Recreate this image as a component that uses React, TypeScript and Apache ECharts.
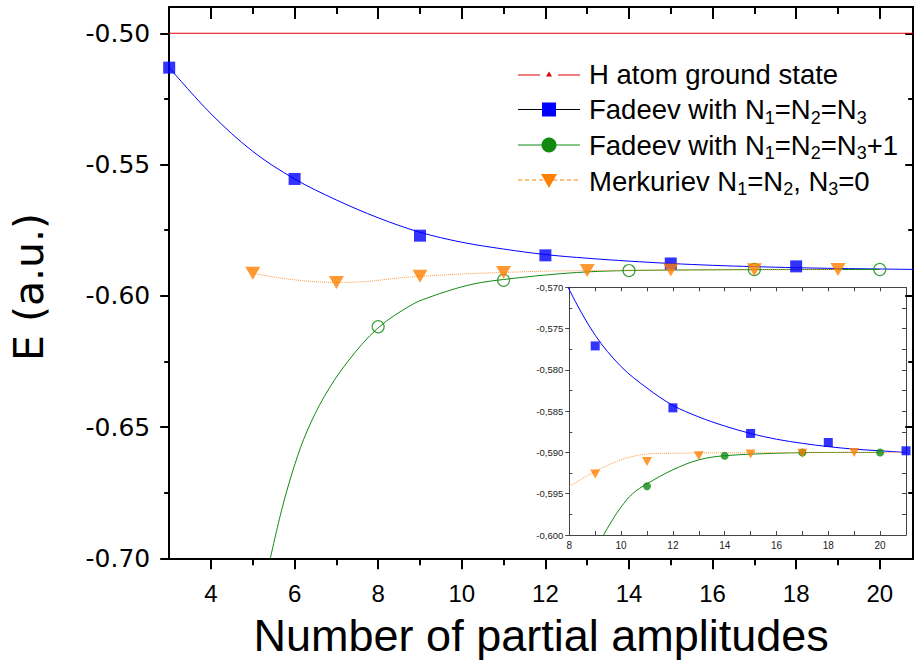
import React, { useEffect, useRef } from "react";
import * as echarts from "echarts";

// ---- axis ranges & ticks ----
const MAIN_X_MIN = 3;
const MAIN_X_MAX = 20.8;
const MAIN_Y_MIN = -0.7;
const MAIN_Y_MAX = -0.49;
const INSET_X_MIN = 8;
const INSET_X_MAX = 21;
const INSET_Y_MIN = -0.6;
const INSET_Y_MAX = -0.57;

const mainXMajor = [4, 6, 8, 10, 12, 14, 16, 18, 20];
const mainXMinor = [5, 7, 9, 11, 13, 15, 17, 19];
const mainYMajor = [-0.7, -0.65, -0.6, -0.55, -0.5];
const mainYMinor = [-0.675, -0.625, -0.575, -0.525];
const insetXTicks = [8, 9, 10, 11, 12, 13, 14, 15, 16, 17, 18, 19, 20, 21];
const insetXLabels = [8, 10, 12, 14, 16, 18, 20];
const insetYMajor = [-0.6, -0.595, -0.59, -0.585, -0.58, -0.575, -0.57];
const insetYMinor = [-0.5975, -0.5925, -0.5875, -0.5825, -0.5775, -0.5725];

// ---- data ----
const H_GROUND = -0.5;

const fadeevEqX = [3, 6, 9, 12, 15, 18, 21];
const fadeevEqE = [-0.5131, -0.5555, -0.5771, -0.5846, -0.5877, -0.5888, -0.5898];

const fadeevPlusX = [8, 11, 14, 17, 20];
const fadeevPlusE = [-0.6118, -0.5941, -0.5904, -0.59, -0.59];

const merkX = [5, 7, 9, 11, 13, 15, 17, 19];
const merkE = [-0.5914, -0.5949, -0.5926, -0.5911, -0.5904, -0.5902, -0.5901, -0.59];

// fitted curves
const blueFitX = [3, 4, 5, 6, 7, 8, 9, 10, 11, 12, 13, 14, 15, 16, 17, 18, 19, 20, 21];
const blueFitE = [-0.5131, -0.5307, -0.5450, -0.5555, -0.5635, -0.5703, -0.5758, -0.5796, -0.5822, -0.5843, -0.5857, -0.5868, -0.5877, -0.5884, -0.5889, -0.5893, -0.5896, -0.5898, -0.59];

const greenFitX = [5.42, 5.7, 6.01, 6.3, 6.71, 7.25, 8.0, 8.84, 9.29, 9.64, 10.0, 10.44, 11, 12, 13, 14, 16, 18, 20];
const greenFitE = [-0.7, -0.681, -0.664, -0.6515, -0.6384, -0.6255, -0.6122, -0.6031, -0.6002, -0.5983, -0.5966, -0.5950, -0.5938, -0.5921, -0.5909, -0.5904, -0.5901, -0.59, -0.59];

const merkFitX = [8, 9, 10, 11, 12, 14, 21];
const merkFitE = [-0.5941, -0.5923, -0.5909, -0.5902, -0.5901, -0.59005, -0.59];

const legendLabels = [
  "{t|H atom ground state}",
  "{t|Fadeev with N}{s|1}{t|=N}{s|2}{t|=N}{s|3}",
  "{t|Fadeev with N}{s|1}{t|=N}{s|2}{t|=N}{s|3}{t|+1}",
  "{t|Merkuriev N}{s|1}{t|=N}{s|2}{t|, N}{s|3}{t|=0}",
];

const BLUE = "#0000ff";
const GREEN = "#128a12";
const ORANGE = "#ff8000";
const RED = "#e00000";

const zip = (xs: number[], ys: number[]) => xs.map((x, i) => [x, ys[i]]);

export default function App() {
  const ref = useRef<HTMLDivElement>(null);

  useEffect(() => {
    document.body.style.margin = "0";
    if (!ref.current) return;
    const chart = echarts.init(ref.current, undefined, { renderer: "svg" });

    const mainAxisLine = { show: true, lineStyle: { color: "#000", width: 2 } };
    const insetAxisLine = { show: true, lineStyle: { color: "#444", width: 1 } };
    const noLine = { show: false };

    const xAxes: any[] = [
      {
        gridIndex: 0, type: "value", position: "bottom", min: MAIN_X_MIN, max: MAIN_X_MAX,
        axisLine: mainAxisLine, splitLine: { show: false },
        axisTick: { show: true, customValues: mainXMajor, length: 11, lineStyle: { width: 2, color: "#000" } },
        axisLabel: { customValues: mainXMajor, fontFamily: "Liberation Sans", fontSize: 24, color: "#000", margin: 23, formatter: (v: number) => String(v) },
        name: "Number of partial amplitudes", nameLocation: "middle", nameGap: 55,
        nameTextStyle: { fontFamily: "Liberation Sans", fontSize: 45, color: "#000" },
      },
      {
        gridIndex: 0, type: "value", position: "bottom", min: MAIN_X_MIN, max: MAIN_X_MAX,
        axisLine: noLine, splitLine: { show: false },
        axisTick: { show: true, customValues: mainXMinor, length: 7, lineStyle: { width: 2, color: "#000" } },
        axisLabel: { show: false },
      },
      {
        gridIndex: 0, type: "value", position: "top", min: MAIN_X_MIN, max: MAIN_X_MAX,
        axisLine: mainAxisLine, splitLine: { show: false },
        axisTick: { show: true, inside: true, customValues: mainXMajor, length: 12, lineStyle: { width: 2, color: "#000" } },
        axisLabel: { show: false },
      },
      {
        gridIndex: 0, type: "value", position: "top", min: MAIN_X_MIN, max: MAIN_X_MAX,
        axisLine: noLine, splitLine: { show: false },
        axisTick: { show: true, inside: true, customValues: mainXMinor, length: 7, lineStyle: { width: 2, color: "#000" } },
        axisLabel: { show: false },
      },
      {
        gridIndex: 1, type: "value", position: "bottom", min: INSET_X_MIN, max: INSET_X_MAX,
        axisLine: insetAxisLine, splitLine: { show: false },
        axisTick: { show: true, inside: true, customValues: insetXTicks, length: 4, lineStyle: { width: 1, color: "#444" } },
        axisLabel: { customValues: insetXLabels, fontFamily: "Liberation Sans", fontSize: 10, color: "#222", margin: 5, formatter: (v: number) => String(v) },
      },
      {
        gridIndex: 1, type: "value", position: "top", min: INSET_X_MIN, max: INSET_X_MAX,
        axisLine: insetAxisLine, splitLine: { show: false },
        axisTick: { show: true, inside: true, customValues: insetXTicks, length: 4, lineStyle: { width: 1, color: "#444" } },
        axisLabel: { show: false },
      },
    ];

    const yAxes: any[] = [
      {
        gridIndex: 0, type: "value", position: "left", min: MAIN_Y_MIN, max: MAIN_Y_MAX,
        axisLine: mainAxisLine, splitLine: { show: false },
        axisTick: { show: true, customValues: mainYMajor, length: 9, lineStyle: { width: 2, color: "#000" } },
        axisLabel: { customValues: mainYMajor, fontFamily: "DejaVu Sans", fontSize: 25, color: "#000", margin: 19, formatter: (v: number) => v.toFixed(2) },
      },
      {
        gridIndex: 0, type: "value", position: "left", min: MAIN_Y_MIN, max: MAIN_Y_MAX,
        axisLine: noLine, splitLine: { show: false },
        axisTick: { show: true, customValues: mainYMinor, length: 5, lineStyle: { width: 2, color: "#000" } },
        axisLabel: { show: false },
      },
      {
        gridIndex: 0, type: "value", position: "right", min: MAIN_Y_MIN, max: MAIN_Y_MAX,
        axisLine: mainAxisLine, splitLine: { show: false },
        axisTick: { show: true, inside: true, customValues: mainYMajor, length: 8, lineStyle: { width: 2, color: "#000" } },
        axisLabel: { show: false },
      },
      {
        gridIndex: 0, type: "value", position: "right", min: MAIN_Y_MIN, max: MAIN_Y_MAX,
        axisLine: noLine, splitLine: { show: false },
        axisTick: { show: true, inside: true, customValues: mainYMinor, length: 5, lineStyle: { width: 2, color: "#000" } },
        axisLabel: { show: false },
      },
      {
        gridIndex: 1, type: "value", position: "left", min: INSET_Y_MIN, max: INSET_Y_MAX,
        axisLine: insetAxisLine, splitLine: { show: false },
        axisTick: { show: true, customValues: insetYMajor, length: 4, lineStyle: { width: 1, color: "#444" } },
        axisLabel: { customValues: insetYMajor, fontFamily: "Liberation Sans", fontSize: 9.5, color: "#222", margin: 6, formatter: (v: number) => v.toFixed(3).replace(".", ",") },
      },
      {
        gridIndex: 1, type: "value", position: "left", min: INSET_Y_MIN, max: INSET_Y_MAX,
        axisLine: noLine, splitLine: { show: false },
        axisTick: { show: true, inside: true, customValues: insetYMinor, length: 3, lineStyle: { width: 1, color: "#444" } },
        axisLabel: { show: false },
      },
      {
        gridIndex: 1, type: "value", position: "right", min: INSET_Y_MIN, max: INSET_Y_MAX,
        axisLine: insetAxisLine, splitLine: { show: false },
        axisTick: { show: true, inside: true, customValues: [...insetYMajor, ...insetYMinor], length: 4, lineStyle: { width: 1, color: "#444" } },
        axisLabel: { show: false },
      },
    ];

    const M = { xAxisIndex: 0, yAxisIndex: 0 };
    const I = { xAxisIndex: 4, yAxisIndex: 4 };
    const fitLine = (data: number[][], color: string, type: string, base: any, extra: any = {}) => ({
      type: "line", ...base, data, showSymbol: false, symbol: "none", smooth: 0.35,
      lineStyle: { color, width: 1, type }, z: 2, silent: true, ...extra,
    });

    const series: any[] = [
      {
        type: "line", ...M, data: [[MAIN_X_MIN, H_GROUND], [MAIN_X_MAX, H_GROUND]], showSymbol: false, symbol: "none",
        lineStyle: { color: RED, width: 1 }, z: 2, silent: true,
      },
      fitLine(zip(blueFitX, blueFitE), BLUE, "solid", M),
      fitLine(zip(greenFitX, greenFitE), GREEN, "solid", M),
      fitLine(zip(merkX, merkE), "#ff9a40", "dotted", M, { smooth: 0.5 }),
      { type: "scatter", ...M, data: zip(fadeevEqX, fadeevEqE), symbol: "rect", symbolSize: 12, itemStyle: { color: BLUE }, z: 4 },
      { type: "scatter", ...M, data: zip(fadeevPlusX, fadeevPlusE), symbol: "circle", symbolSize: 12, itemStyle: { color: "rgba(0,0,0,0)", borderColor: GREEN, borderWidth: 1.2 }, z: 4 },
      { type: "scatter", ...M, data: zip(merkX, merkE), symbol: "triangle", symbolRotate: 180, symbolSize: [15, 13], itemStyle: { color: ORANGE }, z: 4 },

      fitLine(zip(blueFitX, blueFitE), BLUE, "solid", I),
      fitLine(zip(greenFitX, greenFitE), GREEN, "solid", I),
      fitLine(zip(merkFitX, merkFitE), "#ff9a40", "dotted", I),
      { type: "scatter", ...I, data: zip(fadeevEqX, fadeevEqE), symbol: "rect", symbolSize: 9, itemStyle: { color: BLUE }, z: 4 },
      { type: "scatter", ...I, data: zip(fadeevPlusX, fadeevPlusE), symbol: "circle", symbolSize: 8, itemStyle: { color: GREEN }, z: 4 },
      { type: "scatter", ...I, data: zip(merkX, merkE), symbol: "triangle", symbolRotate: 180, symbolSize: [10, 9], itemStyle: { color: ORANGE }, z: 4 },
    ];

    const rowY = [74, 109.5, 145, 181];
    const legendText = legendLabels.map((t, i) => ({
      type: "text", x: 589, y: rowY[i], z: 10,
      style: {
        text: t, align: "left", verticalAlign: "middle",
        rich: {
          t: { fontFamily: "Liberation Sans", fontSize: 27.5, fill: "#000", lineHeight: 34, verticalAlign: "middle" },
          s: { fontFamily: "Liberation Sans", fontSize: 18, fill: "#000", lineHeight: 11, verticalAlign: "bottom" },
        },
      },
    }));

    const graphic: any[] = [
      { type: "line", z: 10, shape: { x1: 518, y1: rowY[0] + 1, x2: 540, y2: rowY[0] + 1 }, style: { stroke: RED, lineWidth: 1 } },
      { type: "line", z: 10, shape: { x1: 558, y1: rowY[0] + 1, x2: 580, y2: rowY[0] + 1 }, style: { stroke: RED, lineWidth: 1 } },
      { type: "polygon", z: 10, shape: { points: [[546, rowY[0] + 2.5], [552, rowY[0] + 2.5], [549, rowY[0] - 2.5]] }, style: { fill: RED } },
      { type: "line", z: 10, shape: { x1: 518, y1: rowY[1], x2: 580, y2: rowY[1] }, style: { stroke: "#000", lineWidth: 1 } },
      { type: "rect", z: 10, shape: { x: 542, y: rowY[1] - 7, width: 14, height: 14 }, style: { fill: BLUE } },
      { type: "line", z: 10, shape: { x1: 518, y1: rowY[2], x2: 580, y2: rowY[2] }, style: { stroke: GREEN, lineWidth: 1 } },
      { type: "circle", z: 10, shape: { cx: 549, cy: rowY[2], r: 7.5 }, style: { fill: GREEN } },
      { type: "line", z: 10, shape: { x1: 518, y1: rowY[3] - 1, x2: 580, y2: rowY[3] - 1 }, style: { stroke: ORANGE, lineWidth: 1, lineDash: [4, 3] } },
      { type: "polygon", z: 10, shape: { points: [[541, rowY[3] - 7], [557, rowY[3] - 7], [549, rowY[3] + 7]] }, style: { fill: ORANGE } },
      ...legendText,
      {
        type: "text", x: 29, y: 287, rotation: Math.PI / 2, z: 10,
        style: { text: "E (a.u.)", align: "center", verticalAlign: "middle", fontFamily: "DejaVu Sans", fontSize: 41, fill: "#000" },
      },
    ];

    chart.setOption({
      animation: false,
      backgroundColor: "#fff",
      grid: [
        { left: 169.2, top: 7, right: 2.8, bottom: 105.7, containLabel: false, outerBoundsMode: "none", show: false },
        { left: 569.3, top: 287.3, right: 10, bottom: 129, containLabel: false, outerBoundsMode: "none", show: true, backgroundColor: "#fff", borderWidth: 0 },
      ],
      xAxis: xAxes,
      yAxis: yAxes,
      series,
      graphic,
    });

    return () => chart.dispose();
  }, []);

  return <div ref={ref} style={{ width: 916, height: 664 }} />;
}
